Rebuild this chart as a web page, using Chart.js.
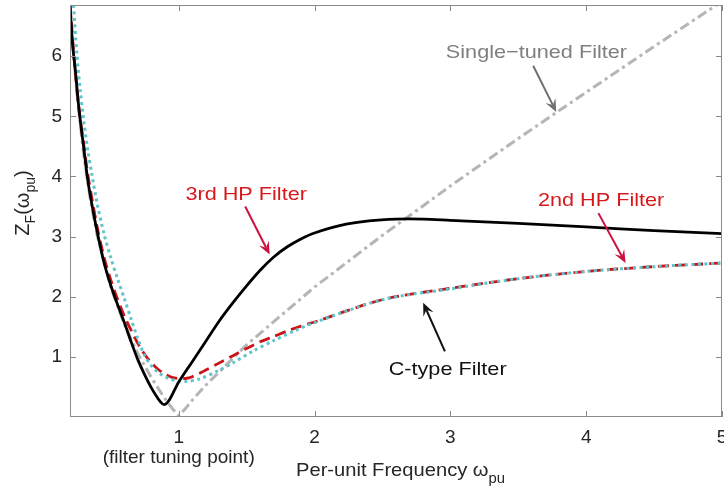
<!DOCTYPE html>
<html>
<head>
<meta charset="utf-8">
<script src="https://cdn.jsdelivr.net/npm/chart.js@4.4.1/dist/chart.umd.min.js"></script>
<style>
  html, body { margin: 0; padding: 0; background: #fff; }
  canvas { display: block; }
</style>
</head>
<body>
<canvas id="chart" width="724" height="492"></canvas>
<script>
// values (per-unit frequency -> |Z|)
const freqThirdHP = [0.2, 0.22, 0.24, 0.26, 0.28, 0.3, 0.33, 0.36, 0.4, 0.45, 0.5, 0.55, 0.6, 0.65, 0.7, 0.75, 0.8, 0.85, 0.88, 0.9, 0.93, 0.97, 1.0, 1.1, 1.2, 1.3, 1.4, 1.5, 1.6, 1.7, 1.8, 1.9, 2.0, 2.2, 2.4, 2.6, 2.8, 3.0, 3.5, 4.0, 4.5, 5.0];
const zThirdHP    = [6.84, 6.17, 5.75, 5.25, 4.85, 4.5, 3.95, 3.55, 3.08, 2.57, 2.19, 1.87, 1.57, 1.25, 0.95, 0.7, 0.48, 0.3, 0.22, 0.21, 0.28, 0.45, 0.58, 0.92, 1.26, 1.6, 1.9, 2.18, 2.44, 2.66, 2.83, 2.96, 3.06, 3.19, 3.26, 3.29, 3.29, 3.27, 3.22, 3.16, 3.1, 3.05];

const freqCType = [0.226, 0.25, 0.275, 0.3, 0.33, 0.36, 0.4, 0.45, 0.5, 0.55, 0.6, 0.65, 0.7, 0.75, 0.8, 0.85, 0.9, 0.95, 1.0, 1.05, 1.15, 1.3, 1.4, 1.55, 1.7, 1.85, 2.0, 2.5, 3.0, 3.5, 4.0, 4.5, 5.0];
const zCType    = [6.85, 6.05, 5.45, 4.95, 4.45, 4.05, 3.55, 3.05, 2.65, 2.3, 1.97, 1.63, 1.3, 1.02, 0.85, 0.74, 0.67, 0.62, 0.6, 0.59, 0.63, 0.78, 0.9, 1.1, 1.27, 1.43, 1.57, 1.95, 2.13, 2.3, 2.42, 2.5, 2.56];

const freqSecondHP = [0.2, 0.22, 0.24, 0.26, 0.28, 0.3, 0.33, 0.36, 0.4, 0.45, 0.5, 0.55, 0.6, 0.65, 0.7, 0.75, 0.8, 0.85, 0.9, 0.95, 1.0, 1.05, 1.1, 1.2, 1.3, 1.4, 1.5, 1.6, 1.7, 1.8, 1.9, 2.0, 2.5, 3.0, 3.5, 4.0, 4.5, 5.0];
const zSecondHP    = [6.85, 6.25, 5.72, 5.25, 4.88, 4.55, 4.05, 3.65, 3.16, 2.66, 2.28, 1.96, 1.68, 1.44, 1.22, 1.04, 0.9, 0.79, 0.71, 0.66, 0.64, 0.64, 0.67, 0.78, 0.9, 1.02, 1.14, 1.25, 1.34, 1.43, 1.51, 1.58, 1.95, 2.14, 2.3, 2.42, 2.5, 2.56];

const freqSingle = [0.2, 0.225, 0.25, 0.3, 0.35, 0.4, 0.5, 0.6, 0.7, 0.8, 0.9, 0.95, 1.0, 1.05, 1.1, 1.2, 1.5, 2.0, 2.5, 3.0, 3.5, 4.0, 4.5, 5.0];
const zSingle    = [6.91, 6.08, 5.4, 4.37, 3.61, 3.02, 2.16, 1.54, 1.05, 0.65, 0.3, 0.15, 0.02, 0.14, 0.28, 0.53, 1.2, 2.16, 3.02, 3.84, 4.63, 5.4, 6.16, 6.91];

const xTicks = [1, 2, 3, 4, 5];
const yTicks = [1, 2, 3, 4, 5, 6];

const FONT = '"Liberation Sans", Arial, sans-serif';
const STRETCH = 1.14;   // the original lettering is a bit wider than Liberation
const CRIMSON = '#cc1040';

// text + arrow callouts, positions in data units
const notes = [
  { text: 'Single\u2212tuned Filter', color: '#7f7f7f', x: 3.634, y: 6.08, from: [3.61, 5.84], to: [3.78, 5.07], arrow: '#6f6f6f' },
  { text: '3rd HP Filter', color: '#d7191c', x: 1.497, y: 3.73, from: [1.49, 3.5], to: [1.67, 2.7], arrow: CRIMSON },
  { text: '2nd HP Filter', color: '#d7191c', x: 4.11, y: 3.62, from: [4.09, 3.39], to: [4.29, 2.56], arrow: CRIMSON },
  { text: 'C-type Filter', color: '#111', x: 2.98, y: 0.82, from: [2.96, 1.09], to: [2.80, 1.9], arrow: '#111' }
];

const pts = (xs, ys) => xs.map((x, i) => ({ x: x, y: ys[i] }));

function richWidth(ctx, parts, stretch) {
  let w = 0;
  parts.forEach(p => {
    ctx.font = p.size + 'px ' + FONT;
    w += ctx.measureText(p.t).width * stretch;
  });
  return w;
}

function drawRich(ctx, parts, x, y, stretch) {
  let cx = x;
  parts.forEach(p => {
    ctx.font = p.size + 'px ' + FONT;
    ctx.save();
    ctx.translate(cx, y + (p.dy || 0));
    ctx.scale(stretch, 1);
    ctx.fillText(p.t, 0, 0);
    ctx.restore();
    cx += ctx.measureText(p.t).width * stretch;
  });
}

function drawArrow(ctx, x1, y1, x2, y2, color) {
  const a = Math.atan2(y2 - y1, x2 - x1);
  const L = 13, W = 5.5;
  ctx.strokeStyle = color;
  ctx.fillStyle = color;
  ctx.lineWidth = 2;
  ctx.beginPath();
  ctx.moveTo(x1, y1);
  ctx.lineTo(x2 - Math.cos(a) * 8, y2 - Math.sin(a) * 8);
  ctx.stroke();
  ctx.save();
  ctx.translate(x2, y2);
  ctx.rotate(a);
  ctx.beginPath();
  ctx.moveTo(0, 0);
  ctx.lineTo(-L, -W);
  ctx.lineTo(-L * 0.6, 0);
  ctx.lineTo(-L, W);
  ctx.closePath();
  ctx.fill();
  ctx.restore();
}

// box, inward ticks, axis titles and callouts
const decorations = {
  id: 'decorations',
  afterDatasetsDraw(chart) {
    const ctx = chart.ctx;
    const a = chart.chartArea;
    const sx = chart.scales.x, sy = chart.scales.y;
    ctx.save();

    ctx.strokeStyle = '#8a8a8a';
    ctx.lineWidth = 1;
    ctx.strokeRect(a.left + 0.5, a.top + 0.5, a.right - a.left - 1, a.bottom - a.top - 1);
    ctx.beginPath();
    xTicks.forEach(v => {
      const px = Math.round(sx.getPixelForValue(v)) + 0.5;
      ctx.moveTo(px, a.bottom); ctx.lineTo(px, a.bottom - 6);
      ctx.moveTo(px, a.top); ctx.lineTo(px, a.top + 6);
    });
    yTicks.forEach(v => {
      const py = Math.round(sy.getPixelForValue(v)) + 0.5;
      ctx.moveTo(a.left, py); ctx.lineTo(a.left + 6, py);
      ctx.moveTo(a.right, py); ctx.lineTo(a.right - 6, py);
    });
    ctx.stroke();

    // x title
    ctx.fillStyle = '#262626';
    ctx.textBaseline = 'alphabetic';
    drawRich(ctx, [
      { t: 'Per-unit Frequency ', size: 19 },
      { t: '\u03c9', size: 19 },
      { t: 'pu', size: 14, dy: 7 }
    ], 296, 476, 1.06);

    // y title, rotated
    const yParts = [
      { t: 'Z', size: 20 },
      { t: 'F', size: 14, dy: 6 },
      { t: '(', size: 20 },
      { t: '\u03c9', size: 20 },
      { t: 'pu', size: 14, dy: 6 },
      { t: ')', size: 20 }
    ];
    const yw = richWidth(ctx, yParts, 1);
    ctx.save();
    ctx.translate(29, 203);
    ctx.rotate(-Math.PI / 2);
    drawRich(ctx, yParts, -yw / 2, 0, 1);
    ctx.restore();

    // callouts
    notes.forEach(n => {
      ctx.fillStyle = n.color;
      const parts = [{ t: n.text, size: 19 }];
      const w = richWidth(ctx, parts, STRETCH);
      drawRich(ctx, parts, sx.getPixelForValue(n.x) - w / 2, sy.getPixelForValue(n.y) + 7, STRETCH);
      drawArrow(ctx,
        sx.getPixelForValue(n.from[0]), sy.getPixelForValue(n.from[1]),
        sx.getPixelForValue(n.to[0]), sy.getPixelForValue(n.to[1]), n.arrow);
    });

    ctx.restore();
  }
};

const lineBase = { showLine: true, pointRadius: 0, fill: false };

new Chart(document.getElementById('chart'), {
  type: 'scatter',
  data: {
    datasets: [
      Object.assign({}, lineBase, { label: '3rd HP Filter', data: pts(freqThirdHP, zThirdHP),
        borderColor: '#000', borderWidth: 2.8, tension: 0.3 }),
      Object.assign({}, lineBase, { label: 'C-type Filter', data: pts(freqCType, zCType),
        borderColor: '#5fc4cc', borderWidth: 3, borderDash: [3, 3.5], tension: 0.3 }),
      Object.assign({}, lineBase, { label: '2nd HP Filter', data: pts(freqSecondHP, zSecondHP),
        borderColor: '#cc1418', borderWidth: 2.8, borderDash: [11, 6], tension: 0.3 }),
      Object.assign({}, lineBase, { label: 'Single-tuned Filter', data: pts(freqSingle, zSingle),
        borderColor: '#b5b5b5', borderWidth: 3, borderDash: [10, 4, 3, 4], tension: 0 })
    ]
  },
  options: {
    responsive: false,
    animation: false,
    devicePixelRatio: 1,
    layout: { padding: { top: 5, right: 2, left: 0, bottom: 0 } },
    plugins: { legend: { display: false }, tooltip: { enabled: false } },
    scales: {
      x: {
        type: 'linear',
        min: 0.2,
        max: 5,
        grid: { display: false, drawTicks: false },
        border: { display: false },
        afterBuildTicks: s => { s.ticks = xTicks.map(v => ({ value: v })); },
        afterFit: s => { s.height = 75; s.paddingLeft = 0; s.paddingRight = 0; },
        ticks: {
          maxRotation: 0,
          autoSkip: false,
          padding: 11,
          color: '#262626',
          font: { family: FONT, size: 19, lineHeight: 1.05 },
          callback: v => v === 1 ? ['1', '(filter tuning point)'] : String(v)
        }
      },
      y: {
        min: 0,
        max: 6.85,
        grid: { display: false, drawTicks: false },
        border: { display: false },
        afterBuildTicks: s => { s.ticks = yTicks.map(v => ({ value: v })); },
        afterFit: s => { s.width = 70; s.paddingTop = 0; s.paddingBottom = 0; },
        ticks: {
          padding: 8,
          color: '#262626',
          font: { family: FONT, size: 19 }
        }
      }
    }
  },
  plugins: [decorations]
});
</script>
</body>
</html>
